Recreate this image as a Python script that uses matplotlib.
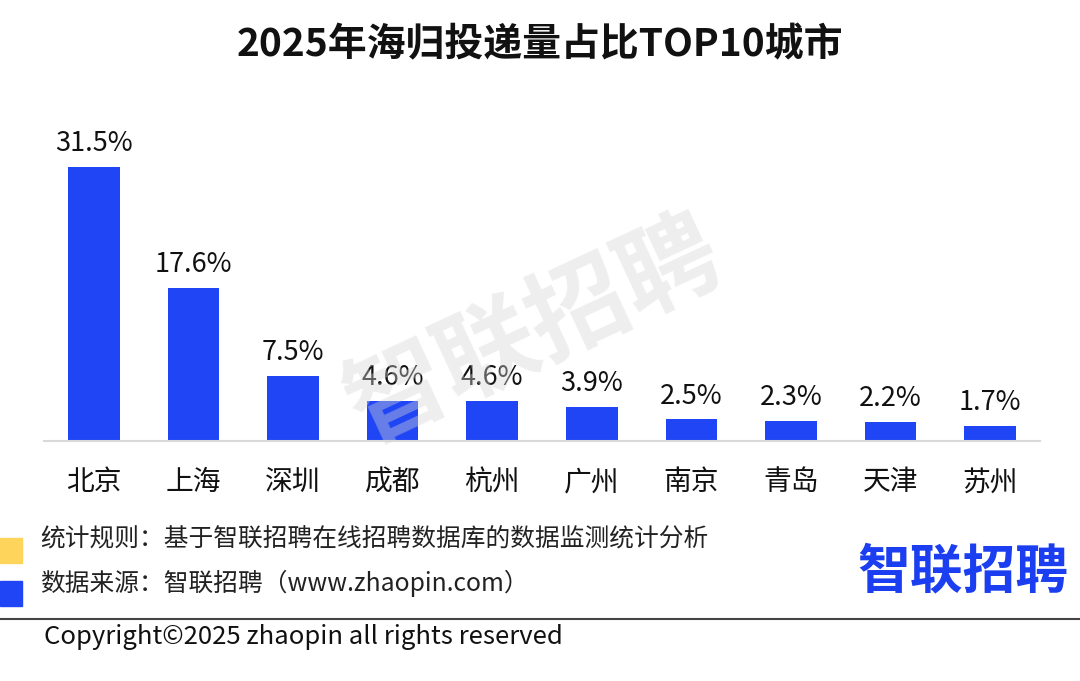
import matplotlib.pyplot as plt
from matplotlib.patches import Rectangle

plt.rcParams['font.family'] = ['Noto Sans CJK SC', 'DejaVu Sans']

# Data
cities = ['北京', '上海', '深圳', '成都', '杭州', '广州', '南京', '青岛', '天津', '苏州']
shares = [31.5, 17.6, 7.5, 4.6, 4.6, 3.9, 2.5, 2.3, 2.2, 1.7]
value_labels = ['31.5%', '17.6%', '7.5%', '4.6%', '4.6%', '3.9%', '2.5%', '2.3%', '2.2%', '1.7%']

title = '2025年海归投递量占比TOP10城市'
note_rule = '统计规则：基于智联招聘在线招聘数据库的数据监测统计分析'
note_source = '数据来源：智联招聘（www.zhaopin.com）'
copyright_text = 'Copyright©2025 zhaopin all rights reserved'
brand = '智联招聘'

BLUE = '#1f45f5'
YELLOW = '#ffd45a'

W, H = 1080, 681
fig = plt.figure(figsize=(W / 100, H / 100), dpi=100)

# main axes: baseline at y=441px, x from 44 to 1040px
ax = fig.add_axes([44 / W, (H - 441) / H, (1040 - 44) / W, (441 - 100) / H])
x = range(len(cities))
ax.bar(x, shares, width=0.52, color=BLUE, zorder=2)
ax.set_xlim(-0.5, 9.5)
ax.set_ylim(0, 39.2)
for i, (v, lab) in enumerate(zip(shares, value_labels)):
    ax.annotate(lab, (i, v), xytext=(0, 7), textcoords='offset points',
                ha='center', va='bottom', fontsize=19.5, color='#111111', zorder=6)
ax.set_xticks(list(x))
ax.set_xticklabels(cities, fontsize=20, color='#111111')
ax.tick_params(axis='x', length=0, pad=19)
ax.set_yticks([])
for s in ['top', 'right', 'left']:
    ax.spines[s].set_visible(False)
ax.spines['bottom'].set_color('#d9d9d9')
ax.spines['bottom'].set_linewidth(1.5)

# title
fig.text(0.5, 1 - 45 / H, title, ha='center', va='center',
         fontsize=28, fontweight='bold', color='#111111')

# watermark
fig.text(534 / W, 1 - 332 / H, brand, ha='center', va='center', rotation=25,
         fontsize=72, fontweight='bold', color='#d6d6d6', alpha=0.4, zorder=5)

# footer squares and notes
fig.add_artist(Rectangle((0, 1 - 563 / H), 22 / W, 25 / H,
                         transform=fig.transFigure, color=YELLOW))
fig.add_artist(Rectangle((0, 1 - 606 / H), 22 / W, 25 / H,
                         transform=fig.transFigure, color=BLUE))
fig.text(40 / W, 1 - 538 / H, note_rule, ha='left', va='center',
         fontsize=17.8, color='#222222')
fig.text(40 / W, 1 - 583 / H, note_source, ha='left', va='center',
         fontsize=17.8, color='#222222')

# brand logo
fig.text(1068 / W, 1 - 572 / H, brand, ha='right', va='center',
         fontsize=38, fontweight='bold', color='#1a3ef0')

# divider and copyright
fig.add_artist(plt.Line2D([0, 1], [1 - 619 / H, 1 - 619 / H],
                          transform=fig.transFigure, color='#444444', lw=1.5))
fig.text(44 / W, 1 - 637 / H, copyright_text, ha='left', va='center',
         fontsize=18.5, color='#111111')

fig.savefig('out.png', dpi=100)
